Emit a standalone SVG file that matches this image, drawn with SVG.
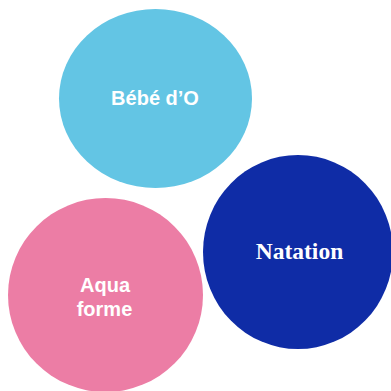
<svg xmlns="http://www.w3.org/2000/svg" width="391" height="391" viewBox="0 0 391 391">
<style>
.s{font-family:"Liberation Sans",Arial,sans-serif;font-weight:bold;font-size:20px;fill:#fff;text-anchor:middle}
.t{font-family:"Liberation Serif","Times New Roman",serif;font-weight:bold;font-size:23.5px;fill:#fff;text-anchor:middle}
</style>
<rect width="391" height="391" fill="#fff"/>
<g id="bebe"><ellipse cx="155.5" cy="98.5" rx="96.5" ry="89.5" fill="#63C5E4"/><text class="s" x="155" y="105">Bébé d’O</text></g>
<g id="natation"><ellipse cx="298" cy="252" rx="95" ry="97" fill="#0F2CA6"/><text class="t" x="299.5" y="259">Natation</text></g>
<g id="aqua"><ellipse cx="105.5" cy="295" rx="97.5" ry="97" fill="#EC7DA5"/><text class="s" x="105" y="291.5">Aqua</text><text class="s" x="104.5" y="316">forme</text></g>
<g id="connectors"/>
</svg>
